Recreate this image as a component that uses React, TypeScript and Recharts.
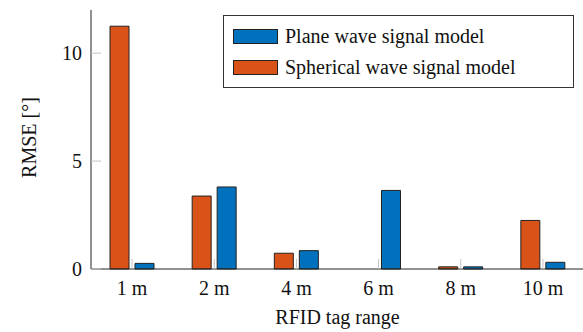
import { BarChart, Bar, XAxis, YAxis, Legend, Label } from 'recharts';

const ranges = ['1 m', '2 m', '4 m', '6 m', '8 m', '10 m'];
const planeRmse = [0.26, 3.8, 0.85, 3.64, 0.1, 0.31];
const sphericalRmse = [11.25, 3.38, 0.73, 0, 0.1, 2.25];
const yTicks = [0, 5, 10];

const planeColor = '#0072BD';
const sphericalColor = '#D95319';
// serif face only comes out reliably at small sizes in this browser
const font = 'Liberation Serif';
const baseSize = 20;

const data = ranges.map((range, i) => ({
  range,
  plane: planeRmse[i],
  spherical: sphericalRmse[i],
}));

function SerifText({ x, y, anchor = 'middle', rotate = 0, baseline, children }: any) {
  return (
    <g transform={`translate(${x},${y}) rotate(${rotate})`}>
      <text x={0} y={0} textAnchor={anchor} dominantBaseline={baseline} fill="#111"
        fontFamily={font} fontSize={baseSize}>{children}</text>
    </g>
  );
}

const XTick = ({ x, y, payload }: any) => (
  <SerifText x={x} y={y + 16}>{payload.value}</SerifText>
);

const YTick = ({ x, y, payload }: any) => (
  <SerifText x={x} y={y} anchor="end" baseline="central">{payload.value}</SerifText>
);

function LegendBox() {
  const rows = [
    { label: 'Plane wave signal model', color: planeColor },
    { label: 'Spherical wave signal model', color: sphericalColor },
  ];
  return (
    <div style={{
      border: '1px solid #333', background: '#fff', boxSizing: 'border-box',
      width: 351, height: 73, padding: '5px 0 0 9px', color: '#111',
      fontFamily: font, fontSize: baseSize,
    }}>
      {rows.map((r) => (
        <div key={r.label} style={{ display: 'flex', alignItems: 'center', height: 31 }}>
          <span style={{
            display: 'inline-block', width: 45, height: 15, boxSizing: 'border-box',
            background: r.color, border: '1px solid #222', marginRight: 7,
          }} />
          <span style={{ whiteSpace: 'nowrap', lineHeight: '31px' }}>{r.label}</span>
        </div>
      ))}
    </div>
  );
}

export default function App() {
  const tickColor = '#c4c4c4';
  const axisColor = '#222';
  return (
    <div style={{ position: 'absolute', left: 0, top: 0, width: 583, height: 332, overflow: 'hidden', background: '#fff' }}>
      <BarChart width={586} height={332} data={data} margin={{ top: 10, right: 2, left: 0, bottom: 0 }}
        barSize={19} barGap={6}>
        <XAxis dataKey="range" height={63} tickSize={-10} tickMargin={20}
          tickLine={{ stroke: tickColor }} axisLine={{ stroke: axisColor }}
          tick={<XTick />} interval={0}>
          <Label content={({ viewBox }: any) => (
            <SerifText x={viewBox.x + viewBox.width / 2} y={viewBox.y + 55}>RFID tag range</SerifText>
          )} />
        </XAxis>
        <XAxis xAxisId="top" dataKey="range" orientation="top" height={0} tick={false}
          tickSize={-10} tickLine={{ stroke: tickColor }} axisLine={{ stroke: axisColor }} />
        <YAxis width={91} domain={[0, 12]} ticks={yTicks} type="number" tickSize={-10} tickMargin={19}
          tickLine={{ stroke: tickColor }} axisLine={{ stroke: axisColor }} tick={<YTick />}>
          <Label content={({ viewBox }: any) => (
            <SerifText x={viewBox.x + 29} y={viewBox.y + viewBox.height / 2 - 2}
              rotate={-90} baseline="central">RMSE [°]</SerifText>
          )} />
        </YAxis>
        <YAxis yAxisId="right" orientation="right" width={0} domain={[0, 12]} ticks={yTicks} type="number"
          tick={false} tickSize={-10} tickLine={{ stroke: tickColor }} axisLine={{ stroke: axisColor }} />
        <Legend layout="vertical" verticalAlign="middle" align="center"
          wrapperStyle={{ left: 223, top: 15, width: 351 }} content={() => <LegendBox />} />
        <Bar dataKey="spherical" fill={sphericalColor} stroke="#222" strokeWidth={1} isAnimationActive={false} />
        <Bar dataKey="plane" fill={planeColor} stroke="#222" strokeWidth={1} isAnimationActive={false} />
      </BarChart>
    </div>
  );
}
